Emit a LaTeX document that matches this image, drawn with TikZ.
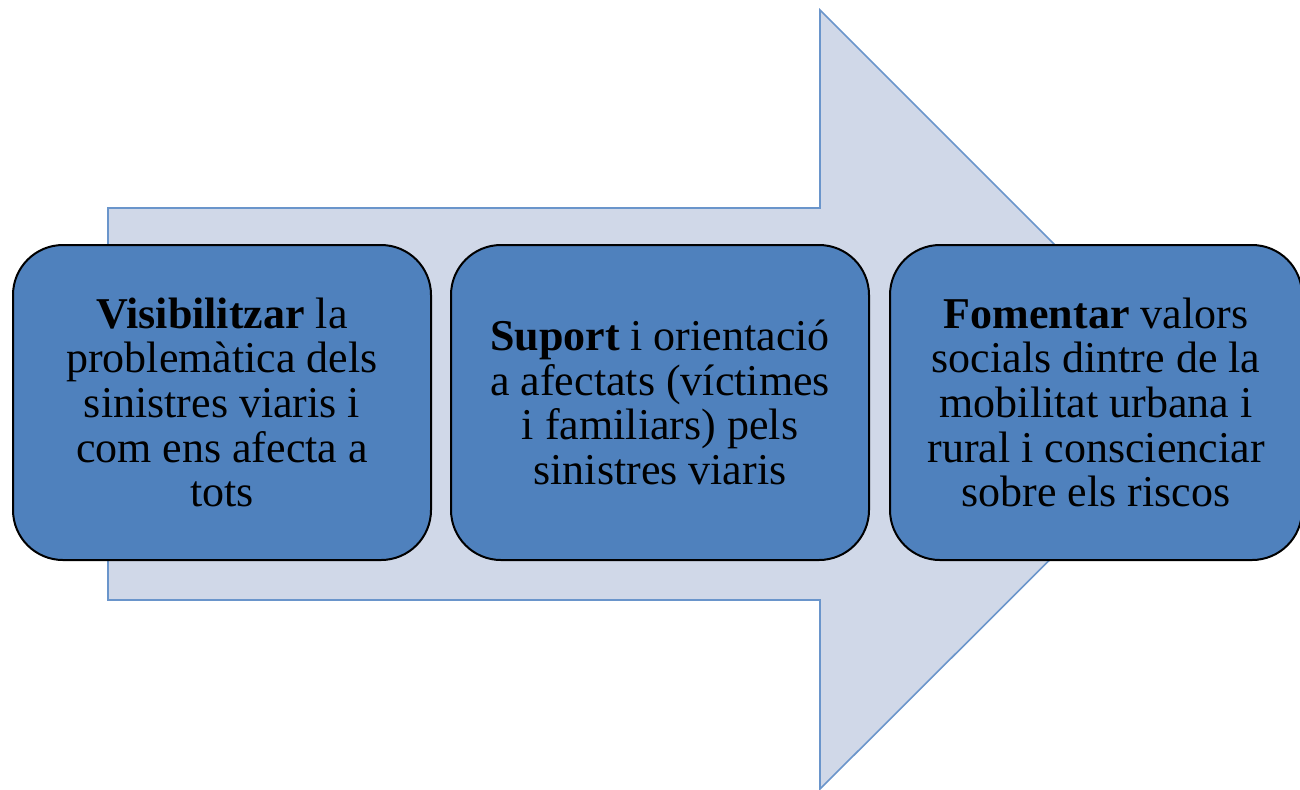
\documentclass[tikz,border=0pt]{standalone}
\usepackage{fontspec}
\setmainfont{Liberation Serif}
\usetikzlibrary{positioning}
\definecolor{boxblue}{HTML}{4F81BD}
\definecolor{arrowfill}{HTML}{D0D8E8}
\definecolor{arrowline}{HTML}{6A95CB}

\begin{document}
\begin{tikzpicture}[x=0.5pt,y=-0.5pt,
  goal/.style={draw=black, line width=1pt, fill=boxblue, rounded corners=25pt,
    minimum width=209pt, minimum height=157.5pt, align=center,
    font=\fontsize{22}{22.3}\selectfont, inner sep=0pt}]
\useasboundingbox (0,0) rectangle (1300,789);
% big arrow behind the boxes
\draw [arrowline, fill=arrowfill, line width=0.8pt]
  (108,208) -- (820,208) -- (820,10) -- (1210,400)
  -- (820,789) -- (820,600) -- (108,600) -- cycle;
% the three goals
\node [goal] (visib) at (222,402.5)
  {\textbf{Visibilitzar} la\\problemàtica dels\\sinistres viaris i\\com ens afecta a\\tots};
\node [goal, right=9pt of visib] (suport)
  {\textbf{Suport} i orientació\\a afectats (víctimes\\i familiars) pels\\sinistres viaris};
\node [goal, minimum width=206pt, right=9.5pt of suport] (foment)
  {\textbf{Fomentar} valors\\socials dintre de la\\mobilitat urbana i\\rural i conscienciar\\sobre els riscos};
\end{tikzpicture}
\end{document}
